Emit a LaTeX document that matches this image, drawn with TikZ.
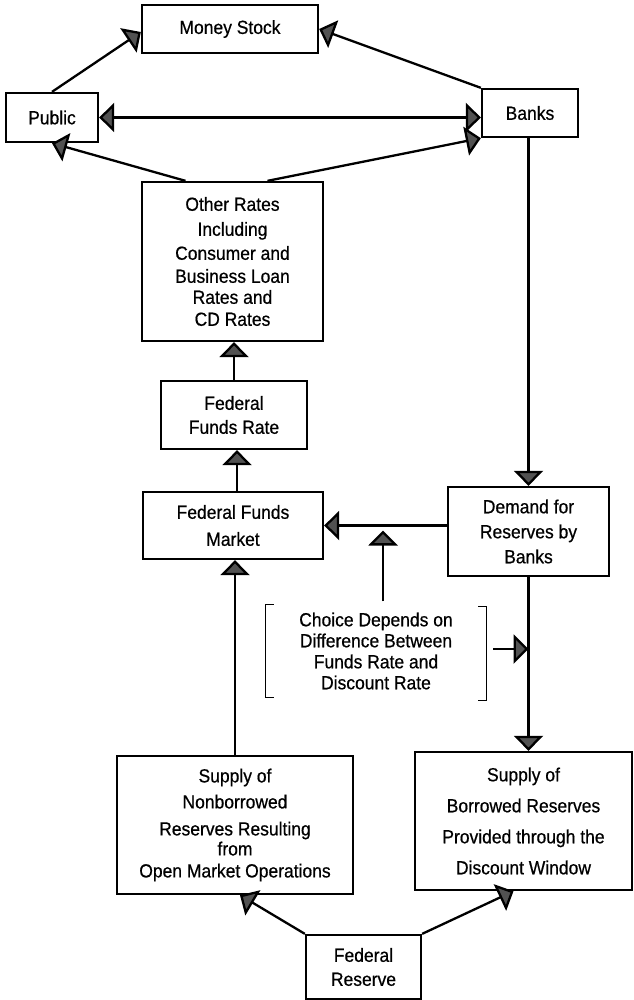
\documentclass[tikz,border=0pt]{standalone}
\usepackage{fontspec}
\setmainfont{Liberation Sans}[FakeStretch=0.92,FakeBold=0.6]
\usetikzlibrary{arrows.meta,calc}
\begin{document}
\begin{tikzpicture}[x=1pt,y=-1pt,
  box/.style={draw=black,line width=2.3pt,inner sep=0pt,align=center,
    font=\fontsize{19}{23}\selectfont},
  tip/.style={},
  arr/.style={line width=2.3pt,-{Triangle[length=15pt,width=29pt,fill=black!68]}},
  darr/.style={line width=2.3pt,{Triangle[length=15pt,width=29pt,fill=black!68]}-{Triangle[length=15pt,width=29pt,fill=black!68]}},
  brk/.style={line width=1.2pt}]
\useasboundingbox (0,0) rectangle (633,1000);
% boxes
\node[box,minimum width=176,minimum height=48] (money) at (230,29) {Money Stock};
\node[box,minimum width=92,minimum height=49] (public) at (52,117.5) {Public};
\node[box,minimum width=96,minimum height=48] (banks) at (530,113) {Banks};
\node[box,minimum width=181,minimum height=159] (other) at (232.5,261.5)
  {Other Rates\\[2pt]Including\\[1pt]Consumer and\\Business Loan\\[-2pt]Rates and\\[-1pt]CD Rates};
\node[box,minimum width=146,minimum height=68,font=\fontsize{19}{24}\selectfont] (rate) at (234,415) {Federal\\Funds Rate};
\node[box,minimum width=180,minimum height=67,font=\fontsize{19}{27}\selectfont] (market) at (233,525.5) {Federal Funds\\Market};
\node[box,minimum width=161,minimum height=89,font=\fontsize{19}{25}\selectfont] (demand) at (528.5,531.5) {Demand for\\Reserves by\\Banks};
\node[inner sep=0pt,minimum width=220,minimum height=93,align=center,
  font=\fontsize{19}{21}\selectfont] (choice) at (376,651)
  {Choice Depends on\\Difference Between\\Funds Rate and\\Discount Rate};
\node[box,minimum width=236,minimum height=138] (nonb) at (235,825)
  {Supply of\\[3pt]Nonborrowed\\[4pt]Reserves Resulting\\[-3pt]from\\[-1pt]Open Market Operations};
\node[box,minimum width=217,minimum height=138,font=\fontsize{19}{31}\selectfont] (borrowed) at (523.5,821)
  {Supply of\\Borrowed Reserves\\Provided through the\\Discount Window};
\node[box,minimum width=115,minimum height=64,font=\fontsize{19}{24}\selectfont] (fed) at (363.5,967) {Federal\\Reserve};
% brackets
\draw[brk] ($(choice.north west)+(8,0)$) -- (choice.north west) -- (choice.south west) -- ++(8,0);
\draw[brk] ($(choice.north east)+(-8,2)$) -- ($(choice.north east)+(0,2)$) -- ($(choice.south east)+(0,3)$) -- ++(-8,0);
% helper coordinates
\coordinate (mr) at ($(market.north)+(4,0)$);
\coordinate (ba) at ($(choice.east)+(7,-2)$);
\coordinate (cu) at ($(choice.north)+(7,-3)$);
\coordinate (ct) at ($(choice.north |- market.east)+(7,5)$);
\coordinate (ms) at ($(money.west)+(0,3)$);
\coordinate (ol) at ($(other.north)+(-47,0)$);
\coordinate (or) at ($(other.north)+(35,0)$);
\coordinate (nt) at ($(nonb.south)+(5,0)$);
\coordinate (bt) at ($(borrowed.south)+(-10,0)$);
% connectors
\draw[arr] (public.north) -- (ms);
\draw[arr] (banks.north west) -- (money.east);
\draw[darr] (public.east) -- (public.east -| banks.west);
\draw[arr] (ol) -- (public.south);
\draw[arr] (or) -- (banks.south west);
\draw[arr] (demand.north |- banks.south) -- (demand.north);
\draw[arr] (rate.north) -- (rate.north |- other.south);
\draw[arr] (mr) -- (mr |- rate.south);
\draw[arr] (demand.west |- market.east) -- (market.east);
\draw[arr] (cu) -- (ct);
\draw[arr] (ba) -- (ba -| demand.south);
\draw[arr] (demand.south) -- (demand.south |- borrowed.north);
\draw[arr] (nonb.north) -- (nonb.north |- market.south);
\draw[arr] (fed.north west) -- (nt);
\draw[arr] (fed.north east) -- (bt);
\end{tikzpicture}
\end{document}
